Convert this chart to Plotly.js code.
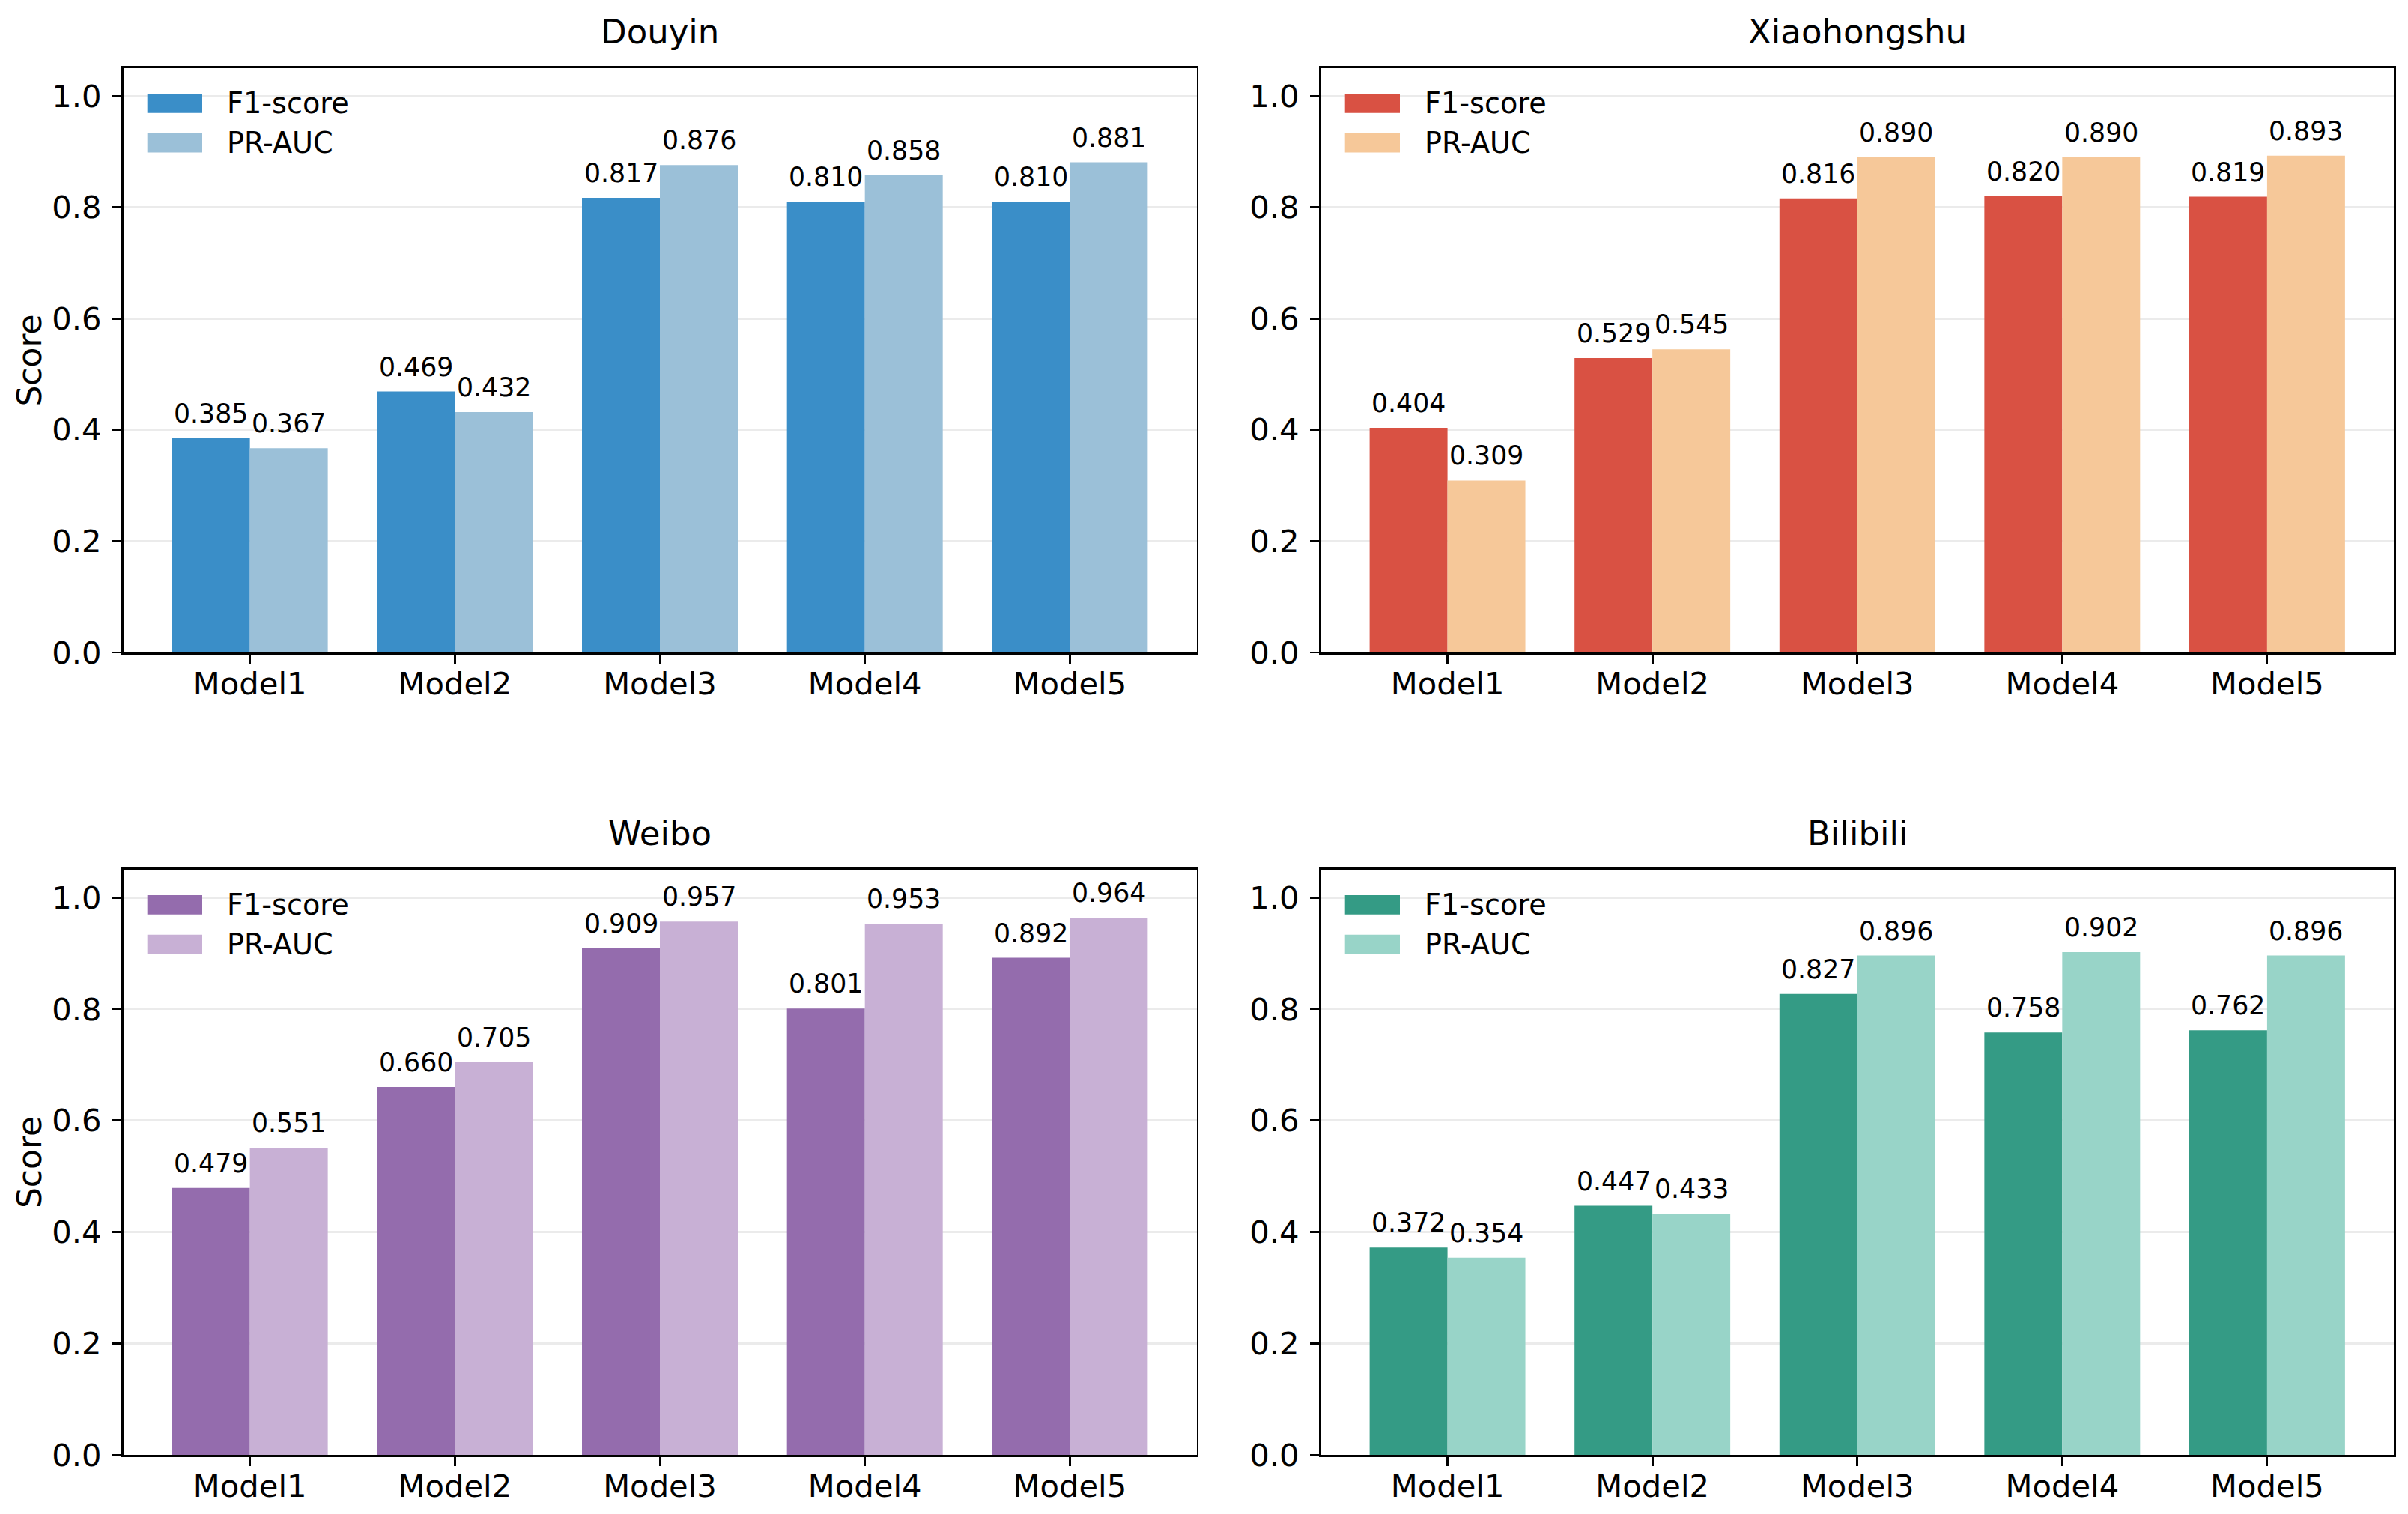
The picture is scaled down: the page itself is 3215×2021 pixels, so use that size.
<!DOCTYPE html>
<html>
<head>
<meta charset="utf-8">
<script src="https://cdn.plot.ly/plotly-3.0.1.min.js"></script>
<style>
  html, body { margin: 0; padding: 0; background: #ffffff; }
  #chart { width: 3215px; height: 2021px; }
</style>
</head>
<body>
<div id="chart"></div>
<script>
// ---------------- data ----------------
const models = ['Model1', 'Model2', 'Model3', 'Model4', 'Model5'];
const seriesNames = ['F1-score', 'PR-AUC'];
const platforms = ['Douyin', 'Xiaohongshu', 'Weibo', 'Bilibili'];

const douyinF1 = [0.385, 0.469, 0.817, 0.810, 0.810];
const douyinPR = [0.367, 0.432, 0.876, 0.858, 0.881];
const xhsF1    = [0.404, 0.529, 0.816, 0.820, 0.819];
const xhsPR    = [0.309, 0.545, 0.890, 0.890, 0.893];
const weiboF1  = [0.479, 0.660, 0.909, 0.801, 0.892];
const weiboPR  = [0.551, 0.705, 0.957, 0.953, 0.964];
const biliF1   = [0.372, 0.447, 0.827, 0.758, 0.762];
const biliPR   = [0.354, 0.433, 0.896, 0.902, 0.896];

const yTickVals = [0.0, 0.2, 0.4, 0.6, 0.8, 1.0];

// ---------------- style / layout ----------------
const W = 3215, H = 2021;
const FONT = 'DejaVu Sans';
const BAR_W = 0.38;
const LW = 2.7;
const colsPx = [[164.5, 1597.5], [1763.5, 3196]];
const rowsPx = [[91, 871], [1161, 1942]];
const colours = [
  ['#3A8EC8', '#9BC0D8'],
  ['#D95143', '#F6C899'],
  ['#946CAD', '#C8B0D5'],
  ['#349B85', '#98D4C8']
];
const panelData = [
  [douyinF1, douyinPR],
  [xhsF1, xhsPR],
  [weiboF1, weiboPR],
  [biliF1, biliPR]
];

const traces = [];
const annotations = [];
const shapes = [];
const layout = {
  width: W, height: H, autosize: false,
  margin: {l: 0, r: 0, t: 0, b: 0, pad: 0},
  paper_bgcolor: '#ffffff', plot_bgcolor: '#ffffff',
  font: {family: FONT, color: '#000000'},
  barmode: 'group', bargap: 1 - 2 * BAR_W, bargroupgap: 0,
  showlegend: false
};

platforms.forEach((name, p) => {
  const col = p % 2, row = Math.floor(p / 2);
  const [l, r] = colsPx[col];
  const [t, b] = rowsPx[row];
  const sfx = p === 0 ? '' : String(p + 1);
  const xa = 'x' + sfx, ya = 'y' + sfx;

  panelData[p].forEach((vals, s) => {
    traces.push({
      type: 'bar', x: models, y: vals, name: seriesNames[s],
      xaxis: xa, yaxis: ya,
      marker: {color: colours[p][s], line: {width: 0}},
      hoverinfo: 'skip'
    });
    vals.forEach((v, i) => {
      annotations.push({
        xref: xa, yref: ya,
        x: i + (s === 0 ? -BAR_W / 2 : BAR_W / 2), y: v,
        text: v.toFixed(3), showarrow: false,
        xanchor: 'center', yanchor: 'bottom', yshift: 11,
        font: {family: FONT, size: 34.7, color: '#000000'}
      });
    });
  });

  layout['xaxis' + sfx] = {
    domain: [l / W, r / W], anchor: ya,
    type: 'category', range: [-0.618, 4.618],
    showline: true, mirror: true, linecolor: '#000000', linewidth: LW,
    ticks: 'outside', ticklen: 12, tickwidth: LW, tickcolor: '#000000',
    ticklabelstandoff: -9,
    showgrid: false, zeroline: false, fixedrange: true,
    tickfont: {family: FONT, size: 41.7, color: '#000000'}
  };
  const yax = {
    domain: [1 - b / H, 1 - t / H], anchor: xa,
    range: [0, 1.05], tickvals: yTickVals, ticktext: yTickVals.map(v => v.toFixed(1)),
    showline: true, mirror: true, linecolor: '#000000', linewidth: LW,
    ticks: 'outside', ticklen: 12, tickwidth: LW, tickcolor: '#000000',
    ticklabelstandoff: 6,
    showgrid: true, gridcolor: 'rgba(204,204,204,0.4)', gridwidth: LW,
    zeroline: false, layer: 'above traces', fixedrange: true,
    tickfont: {family: FONT, size: 41.7, color: '#000000'}
  };
  if (col === 0) {
    yax.title = {text: 'Score', font: {family: FONT, size: 44, color: '#000000'}, standoff: 0};
  }
  layout['yaxis' + sfx] = yax;

  // subplot title
  annotations.push({
    xref: 'paper', yref: 'paper',
    x: (l + r) / 2 / W, y: 1 - t / H,
    text: name, showarrow: false, xanchor: 'center', yanchor: 'bottom', yshift: 20,
    font: {family: FONT, size: 45, color: '#000000'}
  });

  // legend (upper left inside the axes)
  seriesNames.forEach((sn, s) => {
    const top = t + 34 + s * 52.7;
    shapes.push({
      type: 'rect', xref: 'paper', yref: 'paper', layer: 'above',
      x0: (l + 32.2) / W, x1: (l + 105.5) / W,
      y0: 1 - (top + 25.7) / H, y1: 1 - top / H,
      fillcolor: colours[p][s], line: {width: 0}
    });
    annotations.push({
      xref: 'paper', yref: 'paper',
      x: (l + 136.5) / W, y: 1 - (top + 12.9) / H,
      text: sn, showarrow: false, xanchor: 'left', yanchor: 'middle',
      font: {family: FONT, size: 38.2, color: '#000000'}
    });
  });
});

layout.annotations = annotations;
layout.shapes = shapes;

Plotly.newPlot('chart', traces, layout, {staticPlot: true, displayModeBar: false});
</script>
</body>
</html>
